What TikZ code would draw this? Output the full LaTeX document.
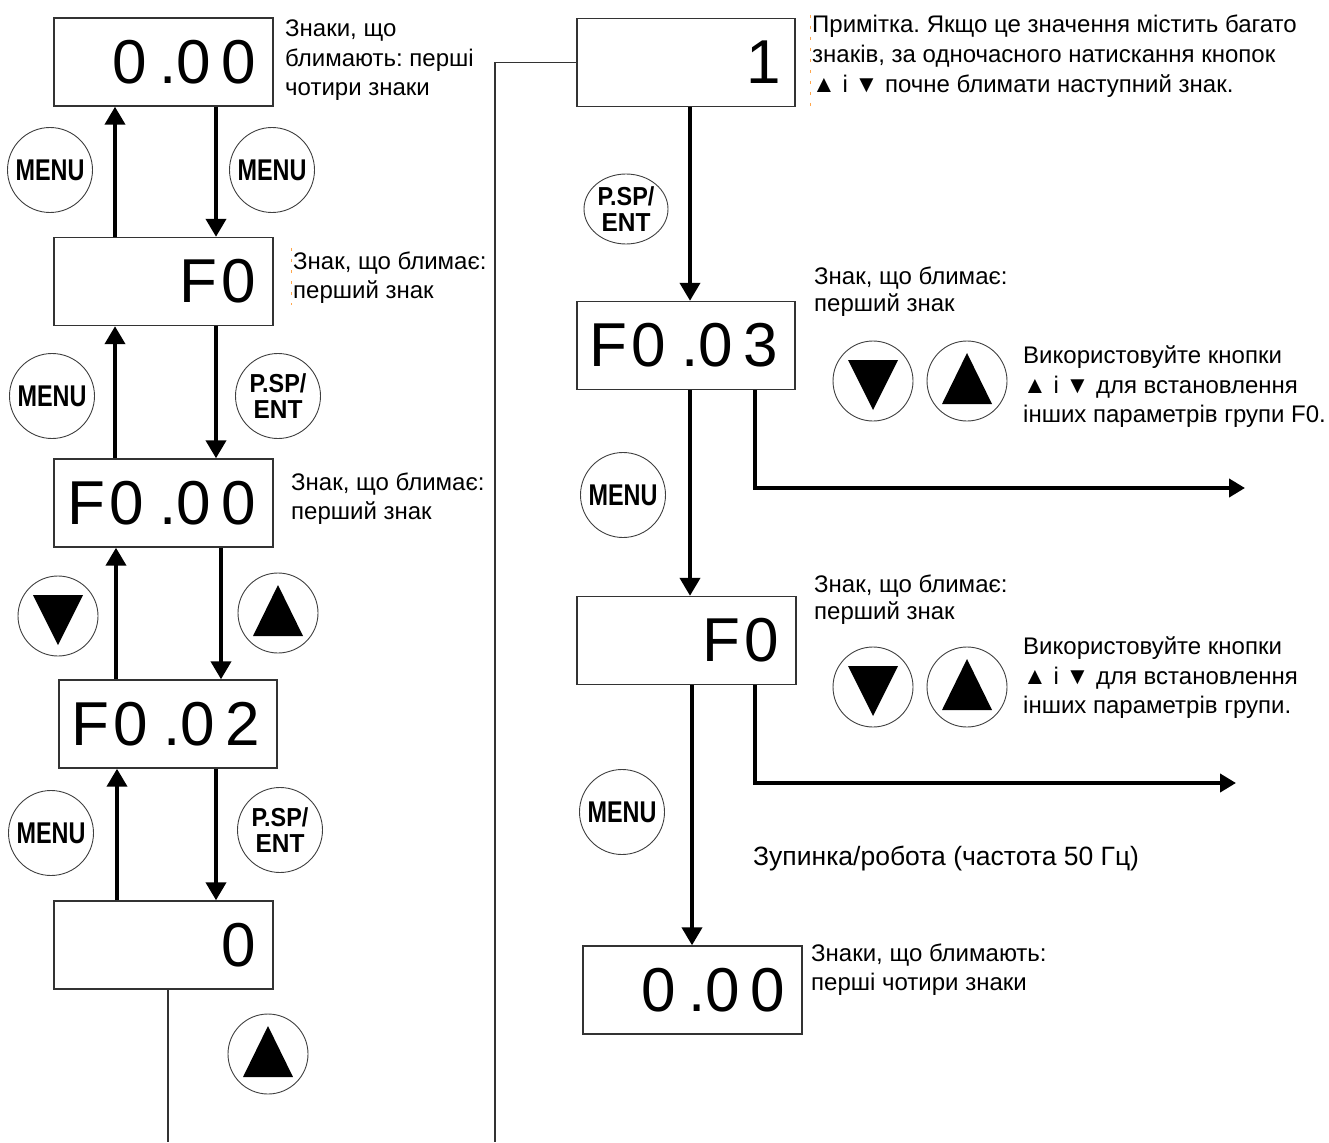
\documentclass[tikz,border=0pt]{standalone}
\usepackage{fontspec}
\setmainfont{Liberation Sans}
\usetikzlibrary{arrows.meta,shapes.geometric}
\begin{document}
\frenchspacing
\begin{tikzpicture}[x=1pt,y=-1pt,
  disp/.style={draw=black!80, line width=1.4pt, minimum height=88pt, minimum width=219pt, inner xsep=0pt, inner ysep=0pt, font=\fontsize{62}{62}\selectfont},
  flow/.style={line width=4pt, -{Triangle[length=18pt,width=20pt]}},
  branch/.style={line width=4pt, -{Triangle[length=16pt,width=18pt]}},
  thinline/.style={draw=black!80, line width=1.5pt},
  btn/.style={circle, draw=black!75, line width=0.9pt, minimum size=85pt, inner sep=0pt},
  psp/.style={btn, align=center, font=\fontsize{26}{26}\selectfont\bfseries},
  tbtn/.style={circle, draw=black!75, line width=0.9pt, minimum size=80pt, inner sep=0pt},
  ann/.style={anchor=base west, inner sep=0pt, font=\fontsize{24}{29}\selectfont},
  artifact/.style={draw=orange!70, line width=0.8pt, dash pattern=on 3pt off 8pt},
]
\useasboundingbox (0,0) rectangle (1329,1142);
\newcommand{\menutext}{\scalebox{0.78}[1]{\fontsize{30}{30}\selectfont\bfseries MENU}}
\newcommand{\psptext}{\scalebox{0.9}[1]{P.SP/}\\\scalebox{0.94}[1]{ENT}}
\newcommand{\dtext}[2]{\makebox[#1][r]{#2}}

% ---------- left column displays ----------
\node[disp] (b1) at (163.5,62) {\dtext{185pt}{0\hspace{12.5pt}.0\hspace{10.5pt}0}};
\node[disp] (b2) at (163.5,281.5) {\dtext{185pt}{F\hspace{4.5pt}0}};
\node[disp] (b3) at (163.5,503) {\dtext{185pt}{F\hspace{4.5pt}0\hspace{15pt}.0\hspace{10.5pt}0}};
\node[disp, minimum width=218pt] (b4) at (168,724) {\dtext{184pt}{F\hspace{4.5pt}0\hspace{15pt}.0\hspace{10.5pt}2}};
\node[disp] (b5) at (163.5,945) {\dtext{185pt}{0}};

% ---------- right column displays ----------
\node[disp, minimum width=218pt] (b6) at (686,62.5) {\dtext{190pt}{1}};
\node[disp, minimum width=218pt] (b7) at (686,345.5) {\dtext{184pt}{F\hspace{4.5pt}0\hspace{15pt}.0\hspace{10.5pt}3}};
\node[disp] (b8) at (686.5,640.5) {\dtext{185pt}{F\hspace{4.5pt}0}};
\node[disp] (b9) at (692.5,990) {\dtext{185pt}{0\hspace{12.5pt}.0\hspace{10.5pt}0}};

% ---------- coordinates for connectors ----------
\coordinate (xu1) at (115,0);
\coordinate (xd1) at (216,0);
\coordinate (xu2) at (116,0);
\coordinate (xd2) at (221,0);
\coordinate (xu3) at (117,0);
\coordinate (xl5) at (168,0);
\coordinate (xr) at (690,0);
\coordinate (xr2) at (692,0);
\coordinate (xb) at (755,0);
\coordinate (bot1) at (168,1142);
\coordinate (c1) at (495,62.5);
\coordinate (c2) at (495,1142);
\coordinate (e1) at (1245,488);
\coordinate (e2) at (1236,783);

% ---------- left arrows ----------
\draw[flow] (b2.north -| xu1) -- (b1.south -| xu1);
\draw[flow] (b1.south -| xd1) -- (b2.north -| xd1);
\draw[flow] (b3.north -| xu1) -- (b2.south -| xu1);
\draw[flow] (b2.south -| xd1) -- (b3.north -| xd1);
\draw[flow] (b4.north -| xu2) -- (b3.south -| xu2);
\draw[flow] (b3.south -| xd2) -- (b4.north -| xd2);
\draw[flow] (b5.north -| xu3) -- (b4.south -| xu3);
\draw[flow] (b4.south -| xd1) -- (b5.north -| xd1);

% thin lines
\draw[thinline] (b5.south -| xl5) -- (bot1);
\draw[thinline] (b6.west) -- (c1) -- (c2);

% ---------- right arrows ----------
\draw[flow] (b6.south -| xr) -- (b7.north -| xr);
\draw[flow] (b7.south -| xr) -- (b8.north -| xr);
\draw[flow] (b8.south -| xr2) -- (b9.north -| xr2);
\draw[branch] (b7.south -| xb) |- (e1);
\draw[branch] (b8.south -| xb) |- (e2);

% ---------- buttons left ----------
\node[btn] (m1) at (50,170) {\menutext};
\node[btn] (m2) at (272,170) {\menutext};
\node[btn] (m3) at (52,396) {\menutext};
\node[psp] (p1) at (278,396) {\psptext};
\node[tbtn] (d1) at (58,616) {};
\node[tbtn] (u1) at (278,613) {};
\node[btn] (m4) at (51,833) {\menutext};
\node[psp] (p2) at (280,830) {\psptext};
\node[tbtn] (u2) at (268,1054) {};

% ---------- buttons right ----------
\node[psp, ellipse, minimum width=84pt, minimum height=70pt] (p3) at (626,209) {\psptext};
\node[btn] (m5) at (623,495) {\menutext};
\node[btn] (m6) at (622,812) {\menutext};
\node[tbtn] (d2) at (873,381) {};
\node[tbtn] (u3) at (967,381) {};
\node[tbtn] (d3) at (873,687) {};
\node[tbtn] (u4) at (967,687) {};

% triangles
\foreach \n in {d1,d2,d3}
  \fill (\n.center) ++(-25,-21) -- ++(50,0) -- ++(-25,50) -- cycle;
\foreach \n in {u1,u2,u3,u4}
  \fill (\n.center) ++(-25,23) -- ++(50,0) -- ++(-25,-51) -- cycle;

% ---------- annotations ----------
\node[ann] (t1a) at (285,37) {Знаки, що};
\node[ann] (t1b) at (285,67) {блимають: перші};
\node[ann] (t1c) at (285,96) {чотири знаки};

\node[ann] (t2a) at (293,269) {Знак, що блимає:};
\node[ann] (t2b) at (293,298) {перший знак};

\node[ann] (t3a) at (291,490) {Знак, що блимає:};
\node[ann] (t3b) at (291,519) {перший знак};

\node[ann] (n1) at (812,33) {Примітка. Якщо це значення містить багато};
\node[ann] (n2) at (812,63) {знаків, за одночасного натискання кнопок};
\node[ann] (n3) at (812,93) {▲ і ▼ почне блимати наступний знак.};

\node[ann] (t7a) at (814,284) {Знак, що блимає:};
\node[ann] (t7b) at (814,311) {перший знак};
\node[ann] (u7a) at (1023,363) {Використовуйте кнопки};
\node[ann] (u7b) at (1023,393) {▲ і ▼ для встановлення};
\node[ann] (u7c) at (1023,422) {інших параметрів групи F0.};

\node[ann] (t8a) at (814,592) {Знак, що блимає:};
\node[ann] (t8b) at (814,619) {перший знак};
\node[ann] (u8a) at (1023,654) {Використовуйте кнопки};
\node[ann] (u8b) at (1023,684) {▲ і ▼ для встановлення};
\node[ann] (u8c) at (1023,713) {інших параметрів групи.};

\node[ann, font=\fontsize{26.5}{31}\selectfont] (stop) at (753,865) {Зупинка/робота (частота 50 Гц)};

\node[ann] (t9a) at (811,961) {Знаки, що блимають:};
\node[ann] (t9b) at (811,990) {перші чотири знаки};

% faint text-box edges
\draw[artifact] (810,15) -- (810,112);
\draw[artifact] (291,248) -- (291,305);
\end{tikzpicture}
\end{document}
